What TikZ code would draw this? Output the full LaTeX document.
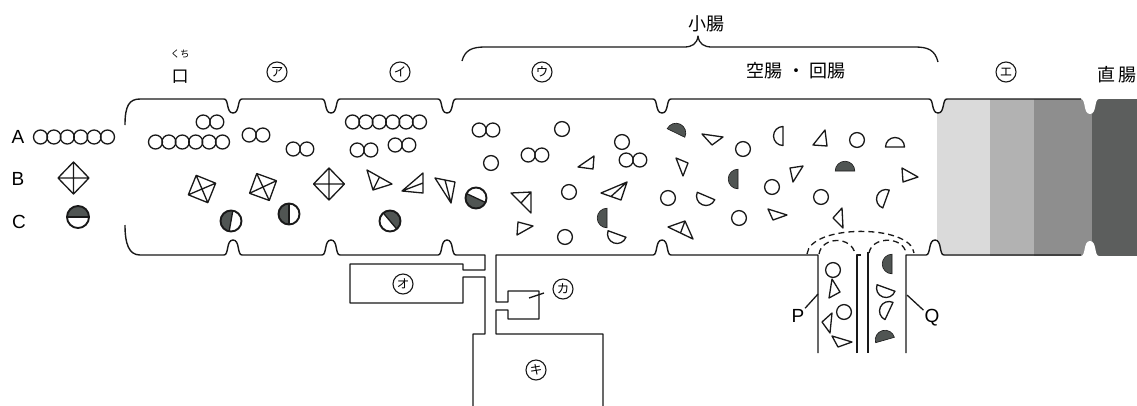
\documentclass[tikz,border=0pt]{standalone}
\usepackage{fontspec}
\setmainfont{Liberation Sans}
\newfontfamily\jp{Noto Sans CJK JP}
\usetikzlibrary{calc}

\definecolor{ink}{RGB}{25,25,25}
\definecolor{mass}{RGB}{80,85,83}
\definecolor{bandA}{RGB}{218,218,218}
\definecolor{bandB}{RGB}{178,178,178}
\definecolor{bandC}{RGB}{142,142,142}
\definecolor{bandD}{RGB}{92,94,93}

% plain triangle and triangle with one inner edge
\newcommand\trio[3]{\draw[obj] #1 -- #2 -- #3 -- cycle;}
\newcommand\tetra[3]{\draw[obj] #1 -- #2 -- #3 -- cycle #3 -- ($#1!0.5!#2$);}

\tikzset{
  wall/.style={draw=ink, line width=1.4pt, line join=round},
  obj/.style={draw=ink, line width=1.3pt, line join=round},
  % downward dip of the upper wall, upward bump of the lower wall
  dip/.style={insert path={-- ({#1-9},99) .. controls ({#1-4},99) and ({#1-7},113) .. (#1,113)
      .. controls ({#1+7},113) and ({#1+4},99) .. ({#1+9},99)}},
  bump/.style={insert path={-- ({#1-9},255) .. controls ({#1-4},255) and ({#1-7},240) .. (#1,240)
      .. controls ({#1+7},240) and ({#1+4},255) .. ({#1+9},255)}},
  ball/.pic={\draw[obj] (0,0) circle[radius=7.4];},
  twin/.pic={\draw[obj] (-6.8,0) circle[radius=7] (6.8,0) circle[radius=7];},
  chain/.pic={\foreach \k in {0,...,5}{\draw[obj] ({-33.5+13.4*\k},0) circle[radius=7];}},
  % circle with one half shaded; the argument points to the shaded side
  split/.pic={\fill[fill=mass] ({#1-90}:10.5) arc[start angle={#1-90}, end angle={#1+90}, radius=10.5] -- cycle;
    \draw[obj, line width=1.9pt] (0,0) circle[radius=10.5];
    \draw[obj] ({#1-90}:10.5) -- ({#1+90}:10.5);},
  % half discs; the argument points to the round side
  darkhalf/.pic={\filldraw[draw=ink, line width=0.6pt, fill=mass] ({#1-90}:9.8)
    arc[start angle={#1-90}, end angle={#1+90}, radius=9.8] -- cycle;},
  openhalf/.pic={\filldraw[obj, fill=white] ({#1-90}:9.5)
    arc[start angle={#1-90}, end angle={#1+90}, radius=9.5] -- cycle;},
  xbox/.pic={\draw[obj] (-10.5,-10.5) rectangle (10.5,10.5)
    (-10.5,-10.5) -- (10.5,10.5) (-10.5,10.5) -- (10.5,-10.5);},
  crossgem/.pic={\draw[obj] (-15.5,0) -- (0,-16) -- (15.5,0) -- (0,16) -- cycle
    (-15.5,0) -- (15.5,0) (0,-16) -- (0,16);},
  maru/.style={circle, draw=ink, line width=1.1pt, minimum size=20pt, inner sep=0pt,
    font=\jp\fontsize{12.5}{12.5}\selectfont},
  jpbig/.style={font=\jp\fontsize{18}{18}\selectfont, inner sep=0pt},
  letter/.style={font=\fontsize{19}{19}\selectfont, inner sep=1pt},
  dashline/.style={draw=ink, line width=1.3pt, dash pattern=on 6pt off 4pt}
}

\begin{document}
\begin{tikzpicture}[x=1pt,y=-1pt]
\useasboundingbox (0,0) rectangle (1137,405);
\fill[white] (0,0) rectangle (1137,405);

% ---- large intestine shading ----
\fill[bandA] (937,99) rectangle (990,256);
\fill[bandB] (990,99) rectangle (1034,256);
\fill[bandC] (1034,99) rectangle (1092,256);
\fill[bandD] (1092,99) rectangle (1137,256);
\fill[white] (1080,98) -- (1081,99) .. controls (1086,99) and (1083,114) .. (1090,114)
  .. controls (1097,114) and (1094,99) .. (1099,99) -- (1100,98) -- cycle;
\fill[white] (1080,257) -- (1081,256) .. controls (1086,256) and (1083,241) .. (1090,241)
  .. controls (1097,241) and (1094,256) .. (1099,256) -- (1100,257) -- cycle;
\fill[white] (929,98) -- (929,99) .. controls (934,99) and (931,113) .. (938,113)
  .. controls (945,113) and (942,99) .. (947,99) -- (947,98) -- cycle;
\fill[white] (926,256) -- (926,255) .. controls (931,255) and (928,240) .. (935,240)
  .. controls (942,240) and (939,255) .. (944,255) -- (944,256) -- cycle;

% ---- walls of the digestive tract ----
\draw[wall] (125,125) .. controls (125,106) and (129,99) .. (140,99)
  [dip=233] [dip=331] [dip=447] [dip=662] [dip=938] -- (1081,99);
\draw[wall] (125,225) .. controls (125,244) and (129,255) .. (140,255)
  [bump=233] [bump=331] [bump=447] -- (485,255) -- (485,270) -- (463,270) -- (463,264)
  -- (350,264) -- (350,303) -- (463,303) -- (463,277) -- (485,277) -- (485,334)
  -- (473,334) -- (473,407);
\draw[wall] (603,407) -- (603,334) -- (496,334) -- (496,310) -- (508,310) -- (508,319)
  -- (539,319) -- (539,291) -- (508,291) -- (508,302) -- (496,302) -- (496,255)
  [bump=662] -- (818,255) -- (818,353);
\draw[wall] (857,353) -- (857,255) -- (861,255);
\draw[wall] (868,252) -- (868,353);
\draw[wall] (906,353) -- (906,255) [bump=935] -- (1081,255);

% ---- dashed outlines above the two vessels ----
\draw[dashline] (807,254) .. controls (810,224) and (911,224) .. (914,253);
\draw[dashline] (819,254) .. controls (822,236) and (852,236) .. (855,254);
\draw[dashline] (869,253) .. controls (872,236) and (903,236) .. (906,253);

% ---- headings ----
\node[font=\jp\fontsize{9.5}{9.5}\selectfont, inner sep=0pt] (ruby) at (180,54) {くち};
\node[font=\jp\fontsize{17}{17}\selectfont, inner sep=0pt] (mouth) at (180,77) {口};
\node[maru] (sa) at (277,72) {ア};
\node[maru] (sb) at (400,72) {イ};
\node[maru] (sc) at (542,72) {ウ};
\node[maru] (sd) at (1006,72) {エ};
\node[jpbig] (smallint) at (706,24) {小腸};
\node[jpbig] (jejil) at (796,71) {空腸\hspace{4.5pt}・\hspace{4.5pt}回腸};
\node[jpbig, anchor=west] (rectum) at (1097,75) {直\hspace{3pt}腸};
\draw[wall, line width=1.3pt] (462,61) .. controls (465,50) and (472,47) .. (485,47)
  -- (684,47) .. controls (692,47) and (697,44) .. (698,36)
  .. controls (699,44) and (704,47) .. (712,47) -- (915,47)
  .. controls (928,47) and (935,50) .. (938,62);

% ---- glands ----
\node[maru] (go) at (403,284) {オ};
\node[maru] (gk) at (563,289) {カ};
\node[maru] (gki) at (536,370) {キ};
\coordinate (kaFrom) at (529,298);
\coordinate (kaTo) at (544,293);
\draw[obj] (kaFrom) -- (kaTo);

% ---- legend ----
\node[letter] (la) at (18,137) {A};
\node[letter] (lb) at (18,179) {B};
\node[letter] (lc) at (19,222) {C};
\pic at (74,137) {chain};
\pic at (73.5,178) {crossgem};
\pic[scale=1.05] at (78,217) {split=-90};

% ---- mouth ----
\pic at (210,122) {twin};
\pic at (189,142) {chain};
\pic[rotate=-22] at (202,189) {xbox};
\pic at (231,221) {split=190};

% ---- section A ----
\pic at (256,135) {twin};
\pic at (300,149) {twin};
\pic[rotate=-20] at (263,187) {xbox};
\pic at (289,214) {split=180};

% ---- section I ----
\pic at (386,122) {chain};
\pic at (364,150) {twin};
\pic at (402,145) {twin};
\pic at (329,184) {crossgem};
\tetra{(367,170)}{(392,184)}{(373,190)}
\tetra{(423,173)}{(423,193)}{(402,191)}
\tetra{(435,178)}{(455,182)}{(451,203)}
\pic at (390,221) {split=-40};

% ---- section U ----
\pic at (486,130) {twin};
\pic at (535,155) {twin};
\pic at (633,160) {twin};
\pic at (562,129) {ball};
\pic at (622,142) {ball};
\pic at (491,163) {ball};
\pic at (569,192) {ball};
\pic at (565,237) {ball};
\pic at (476,198) {split=115};
\trio{(578,167)}{(594,156)}{(593,169)}
\trio{(518,222)}{(533,226)}{(517,235)}
\tetra{(511,193)}{(531,213)}{(531,192)}
\tetra{(601,193)}{(621,200)}{(627,182)}
\pic at (607,218) {darkhalf=180};
\pic at (617,234) {openhalf=110};

% ---- jejunum / ileum ----
\pic at (743,149) {ball};
\pic at (668,198) {ball};
\pic at (739,218) {ball};
\pic at (772,187) {ball};
\pic at (857,140) {ball};
\pic at (821,197) {ball};
\pic at (676,133) {darkhalf=-64};
\pic at (738,179) {darkhalf=180};
\pic at (845,171) {darkhalf=-90};
\pic at (706,196) {openhalf=113};
\pic at (783,136) {openhalf=180};
\pic at (895,147) {openhalf=-90};
\pic at (886,199) {openhalf=200};
\trio{(702,134)}{(723,137)}{(712,145)}
\trio{(676,158)}{(688,163)}{(683,176)}
\trio{(768,209)}{(787,215)}{(773,220)}
\trio{(790,168)}{(803,166)}{(793,182)}
\trio{(825,130)}{(827,146)}{(813,145)}
\trio{(842,208)}{(843,228)}{(833,218)}
\trio{(902,168)}{(918,177)}{(903,182)}
\tetra{(668,227)}{(693,239)}{(685,221)}

% ---- vessels P and Q ----
\pic at (833,270) {ball};
\pic at (844,312) {ball};
\trio{(832,279)}{(840,292)}{(829,298)}
\trio{(832,313)}{(822,322)}{(830,333)}
\trio{(832,336)}{(852,342)}{(838,347)}
\pic at (892,264) {darkhalf=180};
\pic at (886,288) {openhalf=110};
\pic at (889,311) {openhalf=205};
\pic at (885,340) {darkhalf=-106};

\node[letter] (lp) at (798,316) {P};
\node[letter] (lq) at (932,318) {Q};
\coordinate (pTip) at (818,294);
\coordinate (qTip) at (907,295);
\draw[obj] (lp) -- (pTip);
\draw[obj] (lq) -- (qTip);
\end{tikzpicture}
\end{document}
